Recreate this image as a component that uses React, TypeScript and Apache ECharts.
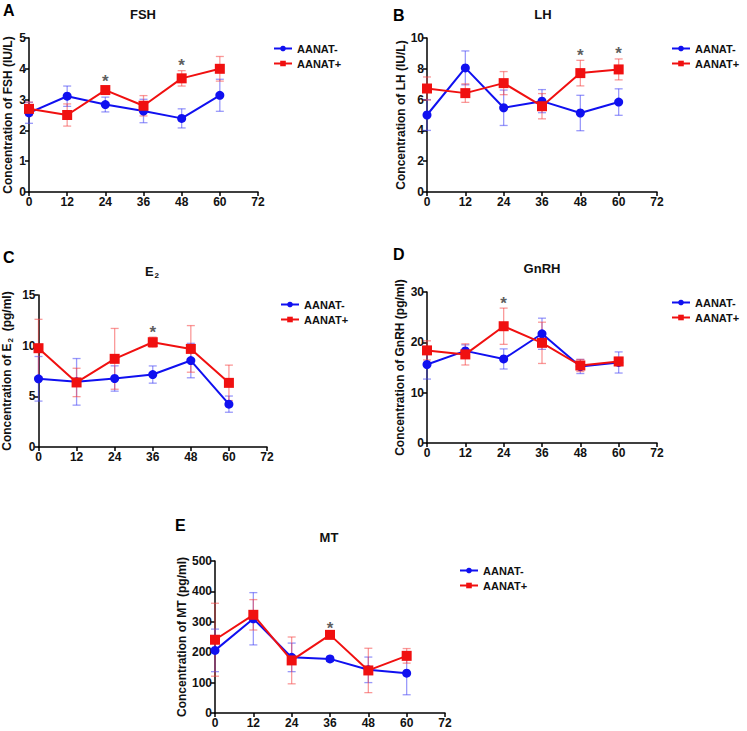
import React, { useEffect, useRef } from "react";
import * as echarts from "echarts";

const time = [0, 12, 24, 36, 48, 60];
const seriesNames = ["AANAT-", "AANAT+"];

const fshNeg = [2.57, 3.11, 2.84, 2.63, 2.39, 3.14];
const fshNegErr = [0.34, 0.33, 0.24, 0.38, 0.31, 0.52];
const fshPos = [2.7, 2.5, 3.31, 2.8, 3.69, 4.0];
const fshPosErr = [0.22, 0.36, 0.1, 0.33, 0.25, 0.4];
const fshSig = [24, 48];

const lhNeg = [5.0, 8.06, 5.47, 5.9, 5.13, 5.84];
const lhNegErr = [1.0, 1.1, 1.15, 0.75, 1.15, 0.86];
const lhPos = [6.72, 6.42, 7.07, 5.57, 7.72, 7.96];
const lhPosErr = [0.75, 0.6, 0.75, 0.82, 0.83, 0.68];
const lhSig = [48, 60];

const e2Neg = [6.73, 6.43, 6.76, 7.15, 8.53, 4.23];
const e2NegErr = [2.2, 2.3, 1.25, 0.85, 1.7, 0.8];
const e2Pos = [9.75, 6.37, 8.7, 10.34, 9.68, 6.33];
const e2PosErr = [2.85, 1.4, 3.0, 0.5, 2.3, 1.75];
const e2Sig = [36];

const gnNeg = [15.6, 18.3, 16.7, 21.7, 15.2, 16.0];
const gnNegErr = [2.9, 1.2, 2.0, 3.1, 1.4, 2.1];
const gnPos = [18.4, 17.6, 23.2, 19.9, 15.4, 16.2];
const gnPosErr = [1.9, 2.1, 3.6, 4.1, 1.2, 0.8];
const gnSig = [24];

const mtNeg = [206, 310, 183, 178, 142, 131];
const mtNegErr = [70, 86, 47, 8, 42, 71];
const mtPos = [241, 323, 173, 257, 140, 188];
const mtPosErr = [120, 50, 77, 5, 73, 24];
const mtSig = [36];

const FONT = "'Liberation Sans', Arial, sans-serif";
const BLUE = "#1010f0";
const RED = "#f01010";
const BLUE_ERR = "rgba(70,70,245,0.55)";
const RED_ERR = "rgba(245,70,70,0.55)";

const panels = [
  {
    letter: "A", title: "FSH", yName: "Concentration of FSH (IU/L)", yMax: 5, yInt: 1,
    neg: fshNeg, negErr: fshNegErr, pos: fshPos, posErr: fshPosErr, sig: fshSig,
    grid: { left: 29, top: 38, width: 229, height: 154 }, legend: { left: 273, top: 43 },
    letterXY: [3, 2], titleXY: [143, 8], nameGap: 15,
  },
  {
    letter: "B", title: "LH", yName: "Concentration of LH (IU/L)", yMax: 10, yInt: 2,
    neg: lhNeg, negErr: lhNegErr, pos: lhPos, posErr: lhPosErr, sig: lhSig,
    grid: { left: 427, top: 38, width: 230, height: 154 }, legend: { left: 671, top: 43 },
    letterXY: [393, 7], titleXY: [543, 8], nameGap: 19,
  },
  {
    letter: "C", title: "E{sub|2}", yName: "Concentration of E{sub|2}  (pg/ml)", yMax: 15, yInt: 5,
    neg: e2Neg, negErr: e2NegErr, pos: e2Pos, posErr: e2PosErr, sig: e2Sig,
    grid: { left: 38, top: 295, width: 229, height: 152 }, legend: { left: 280, top: 299 },
    letterXY: [3, 249], titleXY: [152, 264], nameGap: 24,
  },
  {
    letter: "D", title: "GnRH", yName: "Concentration of GnRH (pg/ml)", yMax: 30, yInt: 10,
    neg: gnNeg, negErr: gnNegErr, pos: gnPos, posErr: gnPosErr, sig: gnSig,
    grid: { left: 427, top: 292, width: 230, height: 151 }, legend: { left: 671, top: 297 },
    letterXY: [393, 246], titleXY: [542, 262], nameGap: 21,
  },
  {
    letter: "E", title: "MT", yName: "Concentration of MT (pg/ml)", yMax: 500, yInt: 100,
    neg: mtNeg, negErr: mtNegErr, pos: mtPos, posErr: mtPosErr, sig: mtSig,
    grid: { left: 215, top: 561, width: 230, height: 152 }, legend: { left: 459, top: 565 },
    letterXY: [175, 517], titleXY: [329, 531], nameGap: 27,
  },
];

const richSub = {
  sub: { fontSize: 8, fontWeight: "bold", fontFamily: FONT, padding: [7, 0, 0, 1], color: "#111" },
};

function errRender(color: string) {
  return (params: any, api: any) => {
    const x = api.value(0);
    const m = api.value(1);
    const e = api.value(2);
    const top = api.coord([x, m + e]);
    const bot = api.coord([x, m - e]);
    const w = 4;
    const style = { stroke: color, lineWidth: 1.3 };
    return {
      type: "group",
      children: [
        { type: "line", shape: { x1: top[0], y1: top[1], x2: bot[0], y2: bot[1] }, style },
        { type: "line", shape: { x1: top[0] - w, y1: top[1], x2: top[0] + w, y2: top[1] }, style },
        { type: "line", shape: { x1: bot[0] - w, y1: bot[1], x2: bot[0] + w, y2: bot[1] }, style },
      ],
    };
  };
}

function buildOption() {
  const grid: any[] = [];
  const xAxis: any[] = [];
  const yAxis: any[] = [];
  const legend: any[] = [];
  const series: any[] = [];
  const graphic: any[] = [];

  const axisLine = { show: true, lineStyle: { color: "#000", width: 1.5 } };
  const axisTick = { show: true, inside: false, length: 4, lineStyle: { color: "#000", width: 1.5 } };
  const labelStyle = { fontFamily: FONT, fontWeight: "bold", fontSize: 12, color: "#111" };

  panels.forEach((p, i) => {
    grid.push({ ...p.grid, containLabel: false });
    xAxis.push({
      type: "value", gridIndex: i, min: 0, max: 72, interval: 12,
      axisLine, axisTick, splitLine: { show: false },
      axisLabel: { ...labelStyle, margin: 4 },
    });
    yAxis.push({
      type: "value", gridIndex: i, min: 0, max: p.yMax, interval: p.yInt,
      axisLine, axisTick, splitLine: { show: false },
      axisLabel: { ...labelStyle, margin: 3 },
      name: p.yName, nameLocation: "middle", nameGap: p.nameGap,
      nameTextStyle: { fontFamily: FONT, fontWeight: "bold", fontSize: 12, color: "#111", rich: richSub },
    });
    legend.push({
      orient: "vertical", left: p.legend.left, top: p.legend.top,
      itemWidth: 18, itemHeight: 7, itemGap: 4, padding: 0,
      data: seriesNames,
      textStyle: { fontFamily: FONT, fontWeight: "bold", fontSize: 11, color: "#111", padding: [0, 0, 0, 0] },
    });
    series.push({
      type: "custom", name: seriesNames[0] + " err", xAxisIndex: i, yAxisIndex: i, z: 1,
      renderItem: errRender(BLUE_ERR), encode: { x: 0, y: 1 },
      data: time.map((t, k) => [t, p.neg[k], p.negErr[k]]),
    });
    series.push({
      type: "custom", name: seriesNames[1] + " err", xAxisIndex: i, yAxisIndex: i, z: 1,
      renderItem: errRender(RED_ERR), encode: { x: 0, y: 1 },
      data: time.map((t, k) => [t, p.pos[k], p.posErr[k]]),
    });
    series.push({
      type: "line", name: seriesNames[0], xAxisIndex: i, yAxisIndex: i, z: 3,
      symbol: "circle", symbolSize: 9, color: BLUE,
      lineStyle: { color: BLUE, width: 2 }, itemStyle: { color: BLUE },
      data: time.map((t, k) => [t, p.neg[k]]),
    });
    series.push({
      type: "line", name: seriesNames[1], xAxisIndex: i, yAxisIndex: i, z: 4,
      symbol: "rect", symbolSize: 10, color: RED,
      lineStyle: { color: RED, width: 2 }, itemStyle: { color: RED },
      data: time.map((t, k) => [t, p.pos[k]]),
    });
    series.push({
      type: "scatter", name: "sig", xAxisIndex: i, yAxisIndex: i, z: 5,
      symbol: "circle", symbolSize: 1, itemStyle: { color: "rgba(0,0,0,0)" },
      silent: true,
      label: {
        show: true, position: "top", distance: -4, formatter: "*",
        fontFamily: FONT, fontWeight: "bold", fontSize: 17, color: "#333",
      },
      data: p.sig.map((t) => {
        const k = time.indexOf(t);
        return [t, p.pos[k] + p.posErr[k]];
      }),
    });
    graphic.push({
      type: "text", x: p.letterXY[0], y: p.letterXY[1],
      style: { text: p.letter, fill: "#000", font: `bold 16px ${FONT}`, textAlign: "left", textVerticalAlign: "top" },
    });
    graphic.push({
      type: "text", x: p.titleXY[0], y: p.titleXY[1],
      style: {
        text: p.title, fill: "#111", font: `bold 13px ${FONT}`,
        textAlign: "center", textVerticalAlign: "top",
        rich: { sub: { fontSize: 8, fontWeight: "bold", fontFamily: FONT, padding: [7, 0, 0, 1], fill: "#111" } },
      },
    });
  });

  return { animation: false, backgroundColor: "#fff", grid, xAxis, yAxis, legend, series, graphic };
}

export default function App() {
  const ref = useRef<HTMLDivElement>(null);
  useEffect(() => {
    if (!ref.current) return;
    const chart = echarts.init(ref.current, null, { renderer: "svg" });
    chart.setOption(buildOption() as any);
    return () => chart.dispose();
  }, []);
  return (
    <div
      ref={ref}
      style={{ position: "absolute", left: 0, top: 0, width: 747, height: 731, background: "#fff" }}
    />
  );
}
